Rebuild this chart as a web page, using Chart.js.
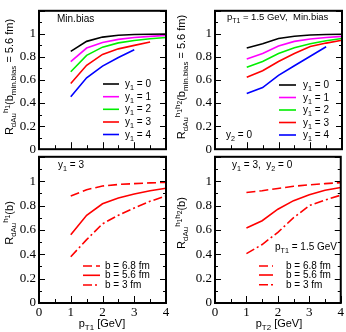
<!DOCTYPE html>
<html><head><meta charset="utf-8">
<script src="https://cdn.jsdelivr.net/npm/chart.js@4/dist/chart.umd.min.js"></script>
<style>
html,body{margin:0;padding:0;background:#fff;}
#wrap{position:relative;width:346px;height:332px;overflow:hidden;background:#fff;font-family:"Liberation Sans",Arial,sans-serif;color:#000;}
canvas{position:absolute;}
.t{position:absolute;white-space:nowrap;font-size:10px;line-height:1;transform:translateY(-50%);}
.ax{position:absolute;white-space:nowrap;font-size:11px;line-height:1;transform:translate(-50%,-50%);}
.yt{position:absolute;white-space:nowrap;font-size:11px;line-height:1;transform:translate(-50%,-50%) rotate(-90deg);}
sub,sup{font-size:72%;line-height:0;}
sub sub, sup sub{font-size:85%;}
</style></head><body><div id="wrap">
<canvas id="c1" width="173" height="160" style="left:0;top:0"></canvas>
<canvas id="c2" width="173" height="160" style="left:173px;top:0"></canvas>
<canvas id="c3" width="173" height="186" style="left:0;top:146px"></canvas>
<canvas id="c4" width="173" height="186" style="left:173px;top:146px"></canvas>

<div class="yt" style="left:9px;top:77px">R<sub>dAu</sub><sup>h<sub>1</sub></sup>(b<sub>min.bias</sub> = 5.6 fm)</div>
<div class="yt" style="left:181px;top:77px">R<sub>dAu</sub><sup>h<sub>1</sub>h<sub>2</sub></sup>(b<sub>min.bias</sub> = 5.6 fm)</div>
<div class="yt" style="left:9px;top:223px">R<sub>dAu</sub><sup>h<sub>1</sub></sup>(b)</div>
<div class="yt" style="left:181px;top:223px">R<sub>dAu</sub><sup>h<sub>1</sub>h<sub>2</sub></sup>(b)</div>
<div class="ax" style="left:102px;top:323px">p<sub>T1</sub> [GeV]</div>
<div class="ax" style="left:279px;top:323px">p<sub>T2</sub> [GeV]</div>

<div class="t" style="left:57px;top:19px">Min.bias</div>
<div class="t" style="left:227px;top:17px;font-size:9.5px">p<sub>T1</sub> = 1.5 GeV,&nbsp; Min.bias</div>
<div class="t" style="left:226px;top:135px">y<sub>2</sub> = 0</div>
<div class="t" style="left:58px;top:165px">y<sub>1</sub> = 3</div>
<div class="t" style="left:232px;top:165px">y<sub>1</sub> = 3,&nbsp; y<sub>2</sub> = 0</div>
<div class="t" style="left:275px;top:247px">p<sub>T1</sub> = 1.5 GeV</div>
<div id="legends"></div>
</div>
<script>
// ---- data ----
const pT = [1, 1.5, 2, 2.5, 3, 3.5, 4];
const rapLabels = ['0', '1', '2', '3', '4'];
const bLabels = ['b = 6.8 fm', 'b = 5.6 fm', 'b = 3 fm'];
// top-left: R_dAu^h1 (min bias) vs pT1 for y1 = 0..4
const tlY0 = [0.848, 0.935, 0.972, 0.988, 0.994, 0.997, 0.999];
const tlY1 = [0.760, 0.877, 0.925, 0.952, 0.968, 0.978, 0.987];
const tlY2 = [0.672, 0.814, 0.885, 0.922, 0.943, 0.957, 0.968];
const tlY3 = [0.570, 0.728, 0.822, 0.870, 0.900, 0.930];
const tlY4 = [0.455, 0.619, 0.720, 0.795, 0.862];
// top-right: R_dAu^h1h2 (min bias) vs pT2 for y1 = 0..4
const trY0 = [0.877, 0.914, 0.960, 0.980, 0.990, 0.995, 0.997];
const trY1 = [0.783, 0.830, 0.895, 0.935, 0.955, 0.968, 0.978];
const trY2 = [0.711, 0.760, 0.830, 0.880, 0.915, 0.940, 0.960];
const trY3 = [0.624, 0.680, 0.760, 0.830, 0.890, 0.920, 0.945];
const trY4 = [0.482, 0.534, 0.640, 0.724, 0.806, 0.888];
// bottom-left: R_dAu^h1(b), y1 = 3
const blB68 = [0.878, 0.930, 0.960, 0.973, 0.980, 0.986, 0.990];
const blB56 = [0.560, 0.720, 0.814, 0.862, 0.895, 0.922, 0.942];
const blB30 = [0.380, 0.520, 0.650, 0.720, 0.780, 0.835, 0.878];
// bottom-right: R_dAu^h1h2(b), y1 = 3, y2 = 0
const brB68 = [0.907, 0.922, 0.940, 0.958, 0.970, 0.980, 0.988];
const brB56 = [0.615, 0.675, 0.770, 0.840, 0.888, 0.925, 0.948];
const brB30 = [0.405, 0.480, 0.580, 0.700, 0.800, 0.845, 0.885];
const yTickVals = [0, 0.2, 0.4, 0.6, 0.8, 1];
const yTickText = ['0', '0.2', '0.4', '0.6', '0.8', '1'];
const xTickVals = [0, 1, 2, 3, 4];

// ---- helpers ----
const pts = (ys) => ys.map((v, i) => ({x: pT[i], y: v}));
const rapColors = ['#000000', '#ff00ff', '#00ee00', '#ff0000', '#0000ff'];
const bDash = [[9, 4], [], [9, 3, 2, 3]];
function rapSets(arrs) {
  return arrs.map((a, i) => ({label: 'y1 = ' + rapLabels[i], data: pts(a), borderColor: rapColors[i], borderWidth: 1.6, borderDash: [], pointRadius: 0, tension: 0, fill: false}));
}
function bSets(arrs) {
  return arrs.map((a, i) => ({label: bLabels[i], data: pts(a), borderColor: '#ff0000', borderWidth: 1.6, borderDash: bDash[i], pointRadius: 0, tension: 0, fill: false}));
}

const framePlugin = {
  id: 'frame',
  afterDatasetsDraw(chart, args, opts) {
    const {ctx, chartArea: a, scales: {x, y}} = chart;
    ctx.save();
    ctx.strokeStyle = '#000'; ctx.lineWidth = 1; ctx.setLineDash([]);
    const ln = (x1, y1, x2, y2) => { ctx.beginPath(); ctx.moveTo(x1, y1); ctx.lineTo(x2, y2); ctx.stroke(); };
    for (let i = 0; i <= 12; i++) {
      const py = Math.round(y.getPixelForValue(i / 10)) + 0.5;
      const len = i % 2 === 0 ? 6 : 3;
      ln(a.left, py, a.left + len, py); ln(a.right, py, a.right - len, py);
    }
    for (let i = 0; i <= 8; i++) {
      const px = Math.round(x.getPixelForValue(i / 2)) + 0.5;
      const len = i % 2 === 0 ? 7 : 4;
      ln(px, a.bottom, px, a.bottom - len);
    }
    ctx.lineWidth = 2;
    ctx.strokeRect(a.left, a.top, a.right - a.left, a.bottom - a.top);
    const lg = opts.legend;
    if (lg) {
      lg.rows.forEach((ry, i) => {
        const ds = chart.data.datasets[i];
        ctx.strokeStyle = ds.borderColor; ctx.lineWidth = 1.6;
        ctx.setLineDash(ds.borderDash || []);
        ln(lg.x0, ry, lg.x1, ry);
      });
    }
    ctx.restore();
  }
};

function makeChart(id, datasets, opt) {
  const serif = {family: '"Liberation Serif","Times New Roman",serif', size: 13};
  return new Chart(document.getElementById(id), {
    type: 'line',
    data: {datasets},
    plugins: [framePlugin],
    options: {
      responsive: false, animation: false, devicePixelRatio: 1,
      layout: {padding: opt.padding},
      plugins: {legend: {display: false}, tooltip: {enabled: false}, frame: {legend: opt.legend}},
      scales: {
        x: {type: 'linear', min: 0, max: 4, display: opt.showX,
            grid: {display: false, drawTicks: false}, border: {display: false},
            afterBuildTicks: (s) => { s.ticks = xTickVals.map(v => ({value: v})); },
            ticks: {font: serif, color: '#000', padding: 2, maxRotation: 0, callback: (v) => String(v)},
            afterFit: (s) => { if (opt.showX) s.height = opt.xh; }},
        y: {type: 'linear', min: 0, max: 1.2,
            grid: {display: false, drawTicks: false}, border: {display: false},
            afterBuildTicks: (s) => { s.ticks = yTickVals.map(v => ({value: v})); },
            ticks: {font: serif, color: '#000', padding: 3,
                    callback: (v) => yTickText[yTickVals.indexOf(v)] ?? String(v)},
            afterFit: (s) => { s.width = opt.yw; }}
      }
    }
  });
}

makeChart('c1', rapSets([tlY0, tlY1, tlY2, tlY3, tlY4]), {padding: {top: 1, right: 7, bottom: 7, left: 0}, yw: 39, showX: false, legend: {x0: 103, x1: 119, rows: [84, 96.7, 109.3, 122, 134.5]}});
makeChart('c2', rapSets([trY0, trY1, trY2, trY3, trY4]), {padding: {top: 1, right: 4, bottom: 7, left: 0}, yw: 42, showX: false, legend: {x0: 106, x1: 123, rows: [85, 97.5, 110, 122.5, 135]}});
makeChart('c3', bSets([blB68, blB56, blB30]), {padding: {top: 7, right: 7, bottom: 0, left: 0}, yw: 39, showX: true, xh: 29, legend: {x0: 83, x1: 100, rows: [120, 129.3, 139]}});
makeChart('c4', bSets([brB68, brB56, brB30]), {padding: {top: 7, right: 4, bottom: 0, left: 0}, yw: 42, showX: true, xh: 29, legend: {x0: 86, x1: 100, rows: [120, 129, 138.7]}});

// legend texts (HTML)
const lgDefs = [
  {left: 125, rows: [84, 96.7, 109.3, 122, 134.5], labels: rapLabels.map(r => 'y<sub>1</sub> = ' + r)},
  {left: 303, rows: [85, 97.5, 110, 122.5, 135], labels: rapLabels.map(r => 'y<sub>1</sub> = ' + r)},
  {left: 105, rows: [266, 275.3, 285], labels: bLabels},
  {left: 286, rows: [266, 275, 284.7], labels: bLabels}
];
const lgBox = document.getElementById('legends');
lgDefs.forEach(d => d.rows.forEach((ry, i) => {
  const el = document.createElement('div');
  el.className = 't'; el.style.left = d.left + 'px'; el.style.top = ry + 'px';
  el.innerHTML = d.labels[i];
  lgBox.appendChild(el);
}));
</script>
</body></html>
